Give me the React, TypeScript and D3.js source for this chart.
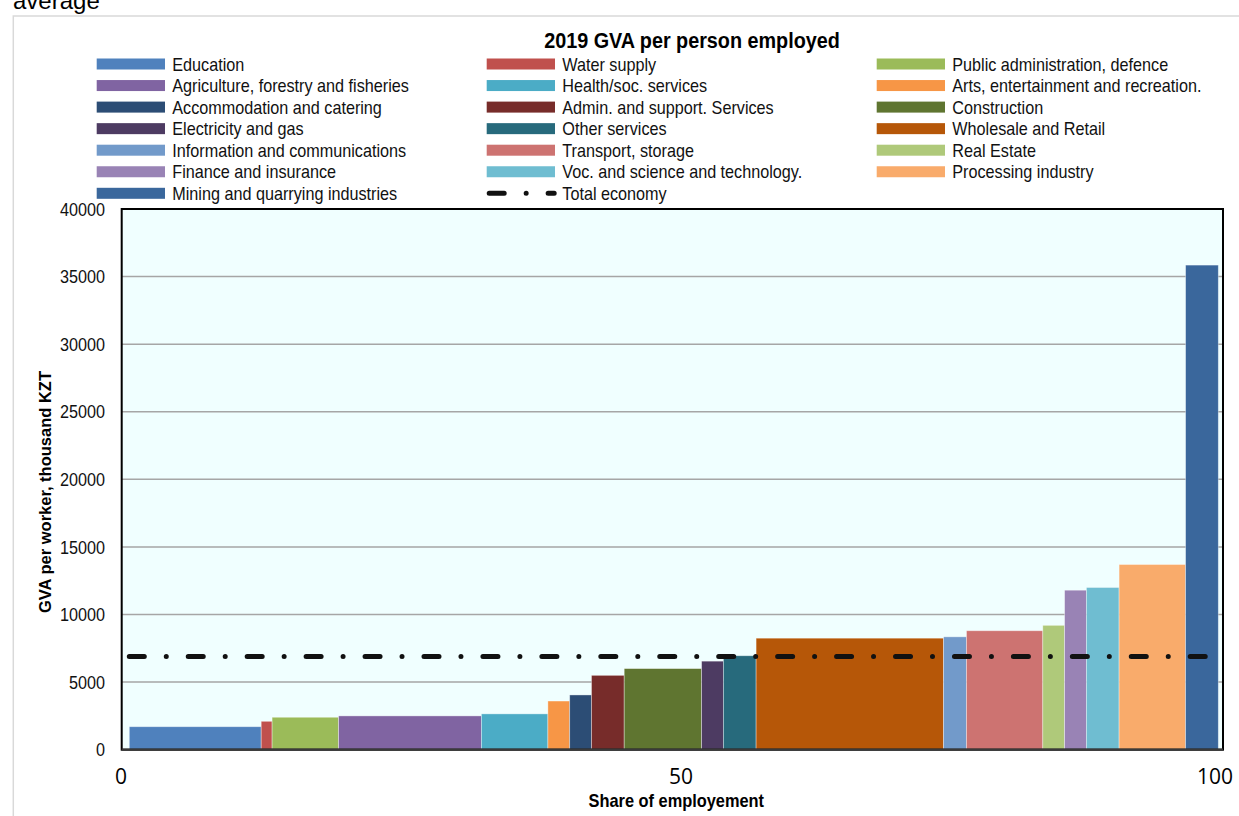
import React from "react";
import * as d3 from "d3";

const categories = [
  "Education",
  "Water supply",
  "Public administration, defence",
  "Agriculture, forestry and fisheries",
  "Health/soc. services",
  "Arts, entertainment and recreation.",
  "Accommodation and catering",
  "Admin. and support. Services",
  "Construction",
  "Electricity and gas",
  "Other services",
  "Wholesale and Retail",
  "Information and communications",
  "Transport, storage",
  "Real Estate",
  "Finance and insurance",
  "Voc. and science and technology.",
  "Processing industry",
  "Mining and quarrying industries",
];

// share of employment (%)
const shares = [12.1, 1.0, 6.1, 13.1, 6.1, 2.0, 2.0, 3.0, 7.1, 2.0, 3.0, 17.2, 2.1, 7.0, 2.0, 2.0, 3.0, 6.1, 3.0];

// GVA per worker, thousand KZT
const gvaValues = [1700, 2100, 2400, 2500, 2650, 3600, 4050, 5500, 6000, 6550, 6950, 8250, 8350, 8800, 9200, 11800, 12000, 13700, 35850];

const colors = [
  "#4f81bd", "#c0504d", "#9bbb59", "#8064a2", "#4bacc6", "#f79646",
  "#2c4d75", "#772c2a", "#5f7530", "#4d3b62", "#276a7c", "#b65708",
  "#729aca", "#cd7371", "#afc97a", "#9983b5", "#6fbdd1", "#f9ab6b",
  "#3a679c",
];

const totalEconomyLabel = "Total economy";
const totalEconomy = 6900;

const yTicks = [0, 5000, 10000, 15000, 20000, 25000, 30000, 35000, 40000];
const xTicks = [0, 50, 100];

const chartTitle = "2019 GVA per person employed";
const yTitle = "GVA per worker, thousand KZT";
const xTitle = "Share of employement";
const topText = "average";

const FONT = "'Liberation Sans', Arial, sans-serif";
const DASH = "15 21.97 0 21.97";

export default function App() {
  const W = 1239;
  const H = 816;
  const plot = { left: 121.7, right: 1223, top: 209, bottom: 749.7 };
  const barLeft = 129.3;
  const barRight = 1218.3;

  const total = d3.sum(shares);
  const x = d3.scaleLinear().domain([0, total]).range([barLeft, barRight]);
  const xLabel = d3.scaleLinear().domain([0, 50, 100]).range([121, 681, 1215]);
  const y = d3.scaleLinear().domain([0, 40000]).range([plot.bottom, plot.top]);

  const starts = d3.cumsum([0, ...shares.slice(0, -1)]);
  const bars = categories.map((c, i) => ({
    name: c,
    x0: starts[i],
    x1: starts[i] + shares[i],
    v: gvaValues[i],
    color: colors[i],
  }));

  const legendItems = [...categories.map((c, i) => ({ name: c, color: colors[i], line: false })),
    { name: totalEconomyLabel, color: "#111", line: true }];
  const colX = [96.7, 486.7, 876.7];
  const rowY0 = 64;
  const rowH = 21.55;

  const sx = 0.875;

  return (
    <svg width={W} height={H} style={{ position: "absolute", left: 0, top: 0, background: "#fff" }}>
      <text x={13} y={9} fontFamily={FONT} fontSize={24} fill="#000">{topText}</text>
      <rect x={13.3} y={16} width={W + 20} height={H + 20} fill="#fff" stroke="#d9d9d9" strokeWidth={1.5} />

      {/* Title */}
      <text transform={`translate(692,47.7) scale(0.9,1)`} textAnchor="middle" fontFamily={FONT} fontWeight="bold" fontSize={22} fill="#000">{chartTitle}</text>

      {/* Legend */}
      {legendItems.map((it, i) => {
        const col = i % 3;
        const row = Math.floor(i / 3);
        const lx = colX[col];
        const ly = rowY0 + row * rowH;
        return (
          <g key={it.name}>
            {it.line ? (
              <line x1={lx + 2.5} x2={lx + 67.5} y1={ly} y2={ly} stroke="#111" strokeWidth={5} strokeLinecap="round" strokeDasharray={DASH} />
            ) : (
              <rect x={lx} y={ly - 5.5} width={68.3} height={11} fill={it.color} />
            )}
            <text transform={`translate(${lx + 75.6},${ly + 6.7}) scale(${sx},1)`} fontFamily={FONT} fontSize={18.5} fill="#111">{it.name}</text>
          </g>
        );
      })}

      {/* Plot background */}
      <rect x={plot.left} y={plot.top} width={plot.right - plot.left} height={plot.bottom - plot.top} fill="#f0ffff" />

      {/* Gridlines */}
      {yTicks.filter((t) => t > 0).map((t) => (
        <line key={t} x1={plot.left} x2={plot.right} y1={y(t)} y2={y(t)} stroke="#a6a6a6" strokeWidth={1.5} />
      ))}

      {/* Bars */}
      {bars.map((b) => (
        <rect key={b.name} x={x(b.x0)} y={y(b.v)} width={x(b.x1) - x(b.x0)} height={y(0) - y(b.v)} fill={b.color} stroke="rgba(255,255,255,0.45)" strokeWidth={0.8} />
      ))}

      {/* Total economy line */}
      <line x1={x(0)} x2={x(total)} y1={y(totalEconomy)} y2={y(totalEconomy)} stroke="#111" strokeWidth={5} strokeLinecap="round" strokeDasharray={DASH} />

      {/* Frame */}
      <rect x={plot.left} y={plot.top} width={plot.right - plot.left} height={plot.bottom - plot.top} fill="none" stroke="#000" strokeWidth={2} />
      <line x1={plot.left} x2={plot.right} y1={plot.bottom} y2={plot.bottom} stroke="#3a3a3a" strokeWidth={2.2} />

      {/* Y tick labels */}
      {yTicks.map((t) => (
        <text key={t} transform={`translate(105,${y(t) + 6.7}) scale(${sx},1)`} textAnchor="end" fontFamily={FONT} fontSize={18.5} fill="#111">{t}</text>
      ))}

      {/* X tick labels */}
      {xTicks.map((t) => (
        <text key={t} x={xLabel(t)} y={784} textAnchor="middle" fontFamily="'Open Sans', sans-serif" fontSize={21} fill="#000">{t}</text>
      ))}

      {/* Axis titles */}
      <text transform={`translate(676.3,806.7) scale(0.91,1)`} textAnchor="middle" fontFamily={FONT} fontWeight="bold" fontSize={18} fill="#000">{xTitle}</text>
      <text transform={`translate(51,492) rotate(-90)`} textAnchor="middle" fontFamily={FONT} fontWeight="bold" fontSize={16.5} fill="#000">{yTitle}</text>
    </svg>
  );
}
